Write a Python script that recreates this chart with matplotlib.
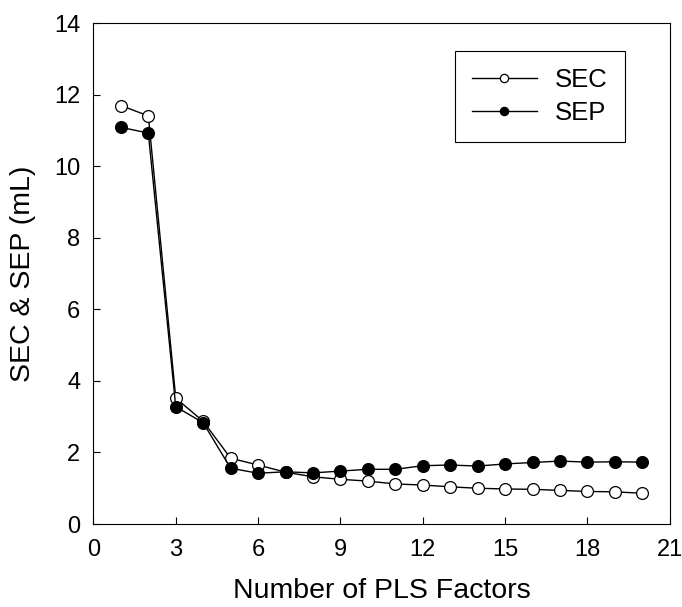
import matplotlib
matplotlib.use("Agg")
import matplotlib.pyplot as plt
import numpy as np

plt.rcParams['font.family'] = ['Liberation Sans', 'DejaVu Sans']

# PLS factor count and calibration / prediction errors (mL)
factors = np.arange(1, 21)
sec = [11.70, 11.41, 3.52, 2.87, 1.84, 1.65, 1.45, 1.32, 1.25, 1.20,
       1.12, 1.09, 1.04, 1.00, 0.98, 0.97, 0.94, 0.91, 0.90, 0.86]
sep = [11.09, 10.93, 3.28, 2.83, 1.56, 1.42, 1.46, 1.43, 1.48, 1.53,
       1.53, 1.63, 1.65, 1.62, 1.68, 1.72, 1.76, 1.73, 1.74, 1.73]

xticks = [0, 3, 6, 9, 12, 15, 18, 21]
yticks = [0, 2, 4, 6, 8, 10, 12, 14]

fig = plt.figure(figsize=(6.82, 6.07), dpi=100)
ax = fig.add_axes([0.137, 0.1367, 0.845, 0.825])

ax.plot(factors, sec, color='black', lw=1.0, marker='o', ms=8.5,
        mfc='white', mec='black', mew=0.9, label='SEC', zorder=3)
ax.plot(factors, sep, color='black', lw=1.0, marker='o', ms=8.5,
        mfc='black', mec='black', mew=0.9, label='SEP', zorder=4)

ax.set_xlim(0, 21)
ax.set_ylim(0, 14)
ax.set_xticks(xticks)
ax.set_yticks(yticks)
ax.tick_params(direction='in', length=5, width=0.8, labelsize=17)
ax.tick_params(axis='x', pad=11)
ax.tick_params(axis='y', pad=9.5)
ax.set_xlabel('Number of PLS Factors', fontsize=20.5, labelpad=12)
ax.set_ylabel('SEC & SEP (mL)', fontsize=20.5, labelpad=13)
for s in ax.spines.values():
    s.set_linewidth(0.8)

leg = ax.legend(loc='upper right', bbox_to_anchor=(0.922, 0.945),
                borderaxespad=0, fontsize=18.5, handlelength=2.5,
                markerscale=0.7, fancybox=False, framealpha=1,
                edgecolor='black', borderpad=0.68, labelspacing=0.33,
                handletextpad=0.7)
leg.get_frame().set_linewidth(0.8)

fig.savefig('out.png', dpi=100)
